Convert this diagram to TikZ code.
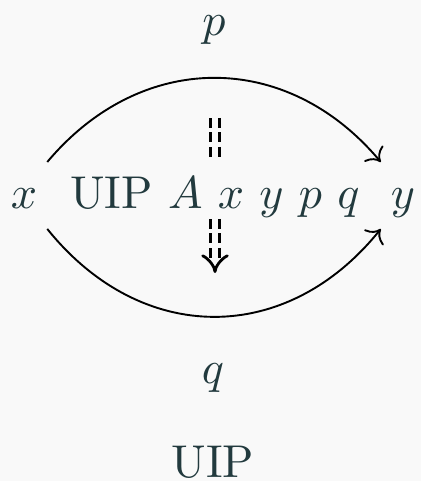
\documentclass[tikz,border=0pt]{standalone}
\usetikzlibrary{arrows.meta,cd}
\definecolor{bg}{HTML}{F9F9F9}
\definecolor{ink}{HTML}{223A3E}
\begin{document}
\begin{tikzpicture}[x=1pt,y=1pt,
  lbl/.style={text=ink, scale=4.6, inner sep=0pt, anchor=base},
  obj/.style={lbl, inner xsep=2pt, text height=9.8pt, text depth=4.35pt},
  arc/.style={line width=1.9pt, -{cm to}},
  dbl/.style={double=bg, double distance=6.5pt, line width=2.8pt, dash pattern=on 10pt off 4.5pt}]
\fill[bg] (0,0) rectangle (421,-481);
\useasboundingbox (0,0) rectangle (421,-481);
\node[obj] (x) at (24,-208) {$x$};
\node[obj] (y) at (403,-208) {$y$};
\node[lbl] (p) at (214,-36) {$p$};
\node[lbl] (q) at (213,-383) {$q$};
\node[lbl] (uip) at (213,-477.5) {UIP};
\node[lbl, text height=10.43pt, text depth=2.17pt, inner xsep=0pt] (mid) at (215,-208) {UIP $A$ $x$ $y$ $p$ $q$};
\coordinate (top) at (215,-118);
\coordinate (bot) at (215,-273);
\draw[arc] (x.north east) .. controls +(94,112) and +(-94,112) .. (y.north west);
\draw[arc] (x.south east) .. controls +(94,-117) and +(-94,-117) .. (y.south west);
\draw[dbl] (top) -- (mid.north);
\draw[dbl,-{Implies[scale=1.35]}] (mid.south) -- (bot);
\end{tikzpicture}
\end{document}
